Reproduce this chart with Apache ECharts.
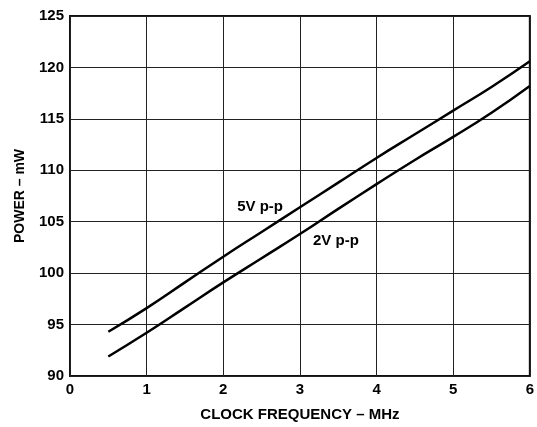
<!DOCTYPE html>
<html>
<head>
<meta charset="utf-8">
<script src="https://cdn.jsdelivr.net/npm/echarts@6/dist/echarts.min.js"></script>
<style>
  html, body { margin: 0; padding: 0; background: #fff; }
  #chart { width: 537px; height: 427px; }
</style>
</head>
<body>
<div id="chart"></div>
<script>
// clock frequency (MHz)
const freq = [0.5, 1, 1.5, 2, 2.5, 3, 3.5, 4, 4.5, 5, 5.5, 6]
// power (mW)
const power5V = [94.3, 96.6, 99.1, 101.6, 104.0, 106.4, 108.8, 111.2, 113.5, 115.8, 118.1, 120.6]
const power2V = [91.9, 94.2, 96.65, 99.1, 101.45, 103.8, 106.25, 108.65, 111.0, 113.25, 115.6, 118.2]
// curve labels placed in data units
const curveLabels = [
  { text: '5V p-p', at: [2.48, 106.45] },
  { text: '2V p-p', at: [3.47, 103.1] }
]

const font = 'Liberation Sans, Arial, Helvetica, sans-serif'
const chart = echarts.init(document.getElementById('chart'))

function pairs(ys) {
  return freq.map((x, i) => [x, ys[i]])
}

chart.setOption({
  backgroundColor: '#fff',
  animation: false,
  grid: {
    left: 70,
    right: 7,
    top: 16,
    bottom: 43,
    show: true,
    borderColor: '#111',
    borderWidth: 2
  },
  xAxis: {
    type: 'value',
    min: 0,
    max: 6,
    interval: 1,
    name: 'CLOCK FREQUENCY – MHz',
    nameLocation: 'middle',
    nameGap: 31,
    nameTextStyle: { fontFamily: font, fontWeight: 'bold', fontSize: 15, color: '#000' },
    axisLine: { show: false },
    axisTick: { show: false },
    axisLabel: { fontFamily: font, fontWeight: 'bold', fontSize: 15, color: '#000', margin: 6 },
    splitLine: { lineStyle: { color: '#222', width: 1 } }
  },
  yAxis: {
    type: 'value',
    min: 90,
    max: 125,
    interval: 5,
    name: 'POWER – mW',
    nameLocation: 'middle',
    nameGap: 43,
    nameTextStyle: { fontFamily: font, fontWeight: 'bold', fontSize: 14, color: '#000' },
    axisLine: { show: false },
    axisTick: { show: false },
    axisLabel: { fontFamily: font, fontWeight: 'bold', fontSize: 15, color: '#000', margin: 6 },
    splitLine: { lineStyle: { color: '#222', width: 1 } }
  },
  series: [
    {
      name: '5V p-p',
      type: 'line',
      smooth: true,
      symbol: 'none',
      lineStyle: { color: '#000', width: 2.5 },
      data: pairs(power5V)
    },
    {
      name: '2V p-p',
      type: 'line',
      smooth: true,
      symbol: 'none',
      lineStyle: { color: '#000', width: 2.5 },
      data: pairs(power2V)
    },
    {
      type: 'scatter',
      symbolSize: 0,
      silent: true,
      itemStyle: { opacity: 1 },
      label: {
        show: true,
        position: 'inside',
        formatter: p => p.data.name,
        fontFamily: font,
        fontWeight: 'bold',
        fontSize: 15,
        color: '#000'
      },
      data: curveLabels.map(l => ({ name: l.text, value: l.at }))
    }
  ]
})
</script>
</body>
</html>
